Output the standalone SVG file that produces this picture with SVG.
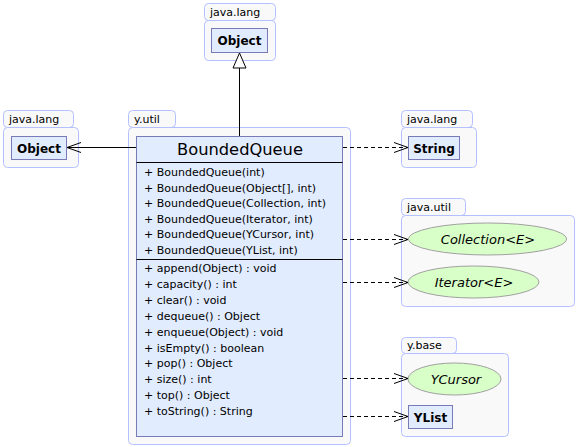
<svg xmlns="http://www.w3.org/2000/svg" width="577" height="447" viewBox="0 0 577 447">
<style>
.pkg{fill:#f9f9f9;stroke:#b4c0ff;stroke-width:1}
.pt{font-family:"DejaVu Sans",sans-serif;font-size:11px;fill:#000}
.box{fill:#e2ecff;stroke:#7a7ab8;stroke-width:1}
.bt{font-family:"DejaVu Sans",sans-serif;font-size:12px;font-weight:bold;fill:#000}
.ell{fill:#d9ffc8;stroke:#a0a0a0;stroke-width:1}
.it{font-family:"DejaVu Sans",sans-serif;font-size:13px;font-style:italic;fill:#000}
.m{font-family:"DejaVu Sans",sans-serif;font-size:11px;fill:#000}
.cn{font-family:"DejaVu Sans",sans-serif;font-size:16.3px;fill:#000}
.ln{stroke:#000;stroke-width:1;fill:none}
.dl{stroke:#000;stroke-width:1;fill:none;stroke-dasharray:4,3}
</style>
<defs>
<marker id="open" markerWidth="16" markerHeight="12" refX="14" refY="6" orient="auto" markerUnits="userSpaceOnUse">
<polyline points="0,1 14,6 0,11" fill="none" stroke="#000" stroke-width="1"/>
</marker>
</defs>
<g id="pkg-java-lang-top">
<rect class="pkg" x="204.5" y="3.5" width="71" height="17" rx="4"/>
<rect class="pkg" x="204.5" y="20.5" width="71" height="40" rx="4"/>
<text class="pt" x="210" y="16">java.lang</text>
</g>
<g id="Object-top">
<rect class="box" x="211.5" y="28.5" width="56" height="24"/>
<text class="bt" x="239.5" y="45" text-anchor="middle">Object</text>
</g>
<g id="pkg-java-lang-left">
<rect class="pkg" x="3.5" y="110.5" width="70" height="17" rx="4"/>
<rect class="pkg" x="3.5" y="127.5" width="75" height="40" rx="4"/>
<text class="pt" x="9" y="123">java.lang</text>
</g>
<g id="Object-left">
<rect class="box" x="11.5" y="136.5" width="55" height="23"/>
<text class="bt" x="39" y="152.5" text-anchor="middle">Object</text>
</g>
<g id="pkg-y-util">
<rect class="pkg" x="128.5" y="110.5" width="47" height="17" rx="4"/>
<rect class="pkg" x="128.5" y="127.5" width="222" height="317" rx="4"/>
<text class="pt" x="134" y="123">y.util</text>
</g>
<g id="BoundedQueue">
<rect class="box" x="136.5" y="136.5" width="206" height="300"/>
<line class="ln" x1="136.5" y1="162.5" x2="342.5" y2="162.5"/>
<line class="ln" x1="136.5" y1="259.5" x2="342.5" y2="259.5"/>
<text class="cn" x="240" y="155" text-anchor="middle">BoundedQueue</text>
<text class="m" x="144" y="176">+ BoundedQueue(int)</text>
<text class="m" x="144" y="191.6">+ BoundedQueue(Object[], int)</text>
<text class="m" x="144" y="207.2">+ BoundedQueue(Collection, int)</text>
<text class="m" x="144" y="222.8">+ BoundedQueue(Iterator, int)</text>
<text class="m" x="144" y="238.4">+ BoundedQueue(YCursor, int)</text>
<text class="m" x="144" y="254">+ BoundedQueue(YList, int)</text>
<text class="m" x="144" y="272">+ append(Object) : void</text>
<text class="m" x="144" y="287.9">+ capacity() : int</text>
<text class="m" x="144" y="303.8">+ clear() : void</text>
<text class="m" x="144" y="319.7">+ dequeue() : Object</text>
<text class="m" x="144" y="335.6">+ enqueue(Object) : void</text>
<text class="m" x="144" y="351.5">+ isEmpty() : boolean</text>
<text class="m" x="144" y="367.4">+ pop() : Object</text>
<text class="m" x="144" y="383.3">+ size() : int</text>
<text class="m" x="144" y="399.2">+ top() : Object</text>
<text class="m" x="144" y="415.1">+ toString() : String</text>
</g>
<g id="pkg-java-lang-right">
<rect class="pkg" x="401.5" y="110.5" width="71" height="17" rx="4"/>
<rect class="pkg" x="401.5" y="127.5" width="75" height="40" rx="4"/>
<text class="pt" x="407" y="123">java.lang</text>
</g>
<g id="String">
<rect class="box" x="408.5" y="136.5" width="51" height="23"/>
<text class="bt" x="434" y="152.5" text-anchor="middle">String</text>
</g>
<g id="pkg-java-util">
<rect class="pkg" x="401.5" y="198.5" width="64" height="17" rx="4"/>
<rect class="pkg" x="401.5" y="215.5" width="173" height="91" rx="4"/>
<text class="pt" x="407" y="211">java.util</text>
</g>
<g id="Collection">
<ellipse class="ell" cx="487.5" cy="239" rx="79" ry="16"/>
<text class="it" x="488" y="243.5" text-anchor="middle">Collection&lt;E&gt;</text>
</g>
<g id="Iterator">
<ellipse class="ell" cx="473.5" cy="282" rx="65.5" ry="16"/>
<text class="it" x="474" y="286.5" text-anchor="middle">Iterator&lt;E&gt;</text>
</g>
<g id="pkg-y-base">
<rect class="pkg" x="401.5" y="337.5" width="55" height="16" rx="4"/>
<rect class="pkg" x="401.5" y="353.5" width="107" height="83" rx="4"/>
<text class="pt" x="407" y="349">y.base</text>
</g>
<g id="YCursor">
<ellipse class="ell" cx="454.5" cy="379" rx="46.5" ry="16"/>
<text class="it" x="456" y="383.5" text-anchor="middle" font-size="14">YCursor</text>
</g>
<g id="YList">
<rect class="box" x="408.5" y="405.5" width="44" height="23"/>
<text class="bt" x="430.5" y="421.5" text-anchor="middle">YList</text>
</g>
<g id="connectors">
<line class="ln" x1="239.5" y1="136" x2="239.5" y2="68"/>
<polygon points="239.5,53 233,68 246,68" fill="#fff" stroke="#000" stroke-width="1"/>
<line class="ln" x1="136" y1="147.5" x2="67" y2="147.5" marker-end="url(#open)"/>
<line class="dl" x1="343" y1="147.5" x2="408" y2="147.5" marker-end="url(#open)"/>
<line class="dl" x1="343" y1="239.5" x2="408" y2="239.5" marker-end="url(#open)"/>
<line class="dl" x1="343" y1="282.5" x2="408" y2="282.5" marker-end="url(#open)"/>
<line class="dl" x1="343" y1="378.5" x2="408" y2="378.5" marker-end="url(#open)"/>
<line class="dl" x1="343" y1="416.5" x2="408" y2="416.5" marker-end="url(#open)"/>
</g>
</svg>
